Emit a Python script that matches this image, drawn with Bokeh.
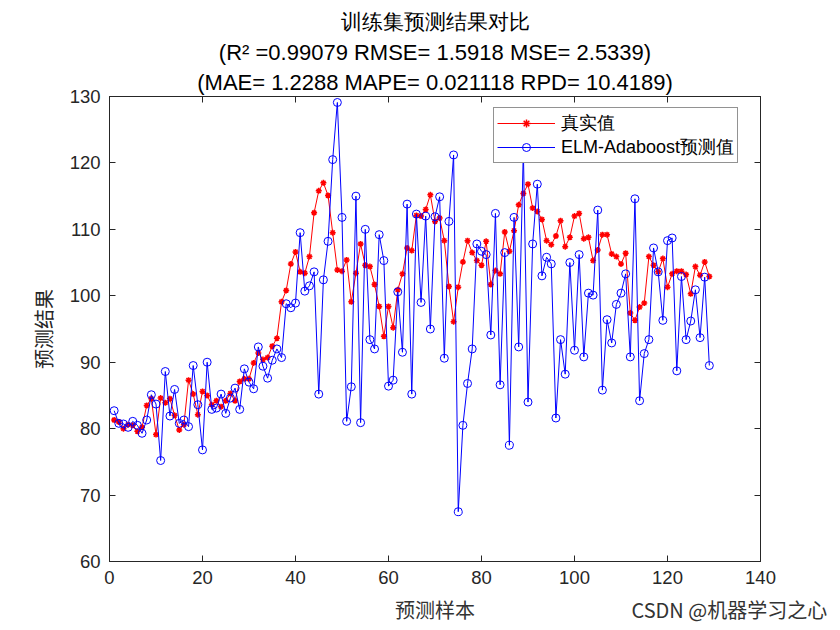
from bokeh.plotting import figure
from bokeh.models import Range1d, FixedTicker, LinearAxis, Legend, LegendItem, Title
from bokeh.embed import file_html
from bokeh.resources import INLINE

# ---------------- data ----------------
sample_index = list(range(1, 130))

true_values = [
    81.3, 81.0, 80.0, 80.6, 80.5, 79.6, 80.2, 83.5, 84.5, 79.1,
    84.6, 83.9, 84.5, 82.0, 79.8, 80.6, 87.3, 85.2, 82.1, 85.6,
    85.0, 83.6, 84.2, 83.3, 84.2, 85.3, 84.2, 87.1, 87.5, 87.5,
    89.9, 91.4, 90.4, 90.7, 92.4, 93.6, 99.1, 100.8, 104.8, 106.6,
    103.6, 103.4, 105.9, 112.5, 115.8, 117.0, 115.1, 109.5, 103.9, 103.7,
    105.4, 99.1, 103.4, 107.8, 104.6, 104.4, 101.7, 98.4, 93.9, 98.4,
    95.2, 100.9, 103.3, 107.2, 106.8, 112.1, 112.0, 113.0, 115.2, 111.2,
    111.7, 108.3, 101.4, 96.1, 101.3, 105.1, 108.3, 106.5, 105.3, 104.6,
    108.2, 101.7, 103.8, 103.3, 109.6, 106.7, 109.8, 113.7, 115.4, 116.8,
    113.2, 112.7, 111.5, 108.3, 107.7, 109.0, 111.3, 107.4, 108.8, 112.0,
    112.4, 108.6, 108.8, 105.3, 106.9, 109.2, 109.2, 106.3, 105.9, 104.8,
    106.4, 97.4, 96.3, 98.3, 98.9, 105.9, 104.6, 103.6, 105.6, 101.3,
    103.3, 103.7, 103.7, 103.2, 100.3, 104.4, 103.1, 105.1, 102.9,
]

pred_values = [
    82.7, 80.8, 80.7, 80.2, 81.1, 80.5, 79.3, 81.3, 85.1, 83.7,
    75.2, 88.6, 81.9, 85.9, 80.8, 81.3, 80.3, 89.5, 83.6, 76.8,
    90.0, 82.9, 83.1, 85.2, 82.3, 84.6, 86.1, 82.9, 89.0, 87.0,
    86.0, 92.3, 89.4, 87.6, 90.3, 92.0, 90.7, 98.8, 98.2, 98.9,
    109.5, 100.7, 101.5, 103.6, 85.2, 102.4, 108.2, 120.5, 129.1, 111.8,
    81.1, 86.3, 115.0, 80.9, 110.0, 93.4, 92.0, 109.2, 105.3, 86.4,
    87.3, 100.6, 91.5, 113.8, 85.2, 112.3, 99.0, 112.0, 95.0, 111.9,
    114.9, 90.6, 111.2, 121.2, 67.5, 80.5, 86.8, 92.0, 107.8, 106.7,
    106.2, 94.1, 112.4, 86.6, 106.5, 77.5, 111.8, 92.3, 122.0, 84.0,
    107.8, 116.8, 103.0, 105.8, 104.8, 81.6, 93.4, 88.2, 105.0, 91.8,
    106.2, 90.8, 100.4, 100.1, 112.9, 85.8, 96.4, 92.9, 98.7, 100.4,
    103.3, 90.8, 114.6, 84.2, 91.3, 93.4, 107.2, 103.6, 96.3, 108.3,
    108.7, 88.7, 102.9, 93.4, 96.2, 100.9, 93.7, 102.8, 89.5,
]

x_ticks = [0, 20, 40, 60, 80, 100, 120, 140]
y_ticks = [60, 70, 80, 90, 100, 110, 120, 130]

title_main = "训练集预测结果对比"
title_line2 = "(R² =0.99079 RMSE= 1.5918 MSE= 2.5339)"
title_line3 = "(MAE= 1.2288 MAPE= 0.021118 RPD= 10.4189)"
x_label = "预测样本"
y_label = "预测结果"
legend_true = "真实值"
legend_pred = "ELM-Adaboost预测值"
watermark = "CSDN @机器学习之心"

# ---------------- layout constants ----------------
LEFT, RIGHT, TOP, BOTTOM = 109, 760, 96, 561
W, H = 840, 630
AX_COLOR = "#262626"
LATIN = "Liberation Sans"
CJK = "Noto Sans CJK SC"
X_LABEL_POS = 70       # centre of the x-axis caption (data units)
WATERMARK_POS = 133.3  # centre of the watermark text (data units)

p = figure(width=W, height=H, output_backend="svg", toolbar_location=None,
           x_range=Range1d(0, 140), y_range=Range1d(60, 130),
           min_border_left=LEFT, min_border_right=W - RIGHT,
           min_border_top=TOP, min_border_bottom=H - BOTTOM)
p.background_fill_color = "white"
p.border_fill_color = "white"
p.outline_line_color = AX_COLOR
p.outline_line_width = 1
p.xgrid.visible = False
p.ygrid.visible = False


def style_axis(ax, ticks):
    ax.ticker = FixedTicker(ticks=ticks)
    ax.major_tick_in = 6
    ax.major_tick_out = 0
    ax.minor_tick_in = 0
    ax.minor_tick_out = 0
    ax.axis_line_color = AX_COLOR
    ax.major_tick_line_color = AX_COLOR
    ax.major_label_text_font = LATIN
    ax.major_label_text_font_size = "18.5px"
    ax.major_label_text_color = AX_COLOR


style_axis(p.xaxis[0], x_ticks)
style_axis(p.yaxis[0], y_ticks)
p.xaxis.major_label_standoff = 9
p.yaxis.major_label_standoff = 9

p.yaxis.axis_label = y_label
p.yaxis.axis_label_text_font = CJK
p.yaxis.axis_label_text_font_size = "20px"
p.yaxis.axis_label_text_font_style = "normal"
p.yaxis.axis_label_text_color = AX_COLOR
p.yaxis.axis_label_standoff = 9

# caption row below the x axis: x caption and watermark share one row
cap = LinearAxis(ticker=FixedTicker(ticks=[X_LABEL_POS, WATERMARK_POS]))
cap.major_label_overrides = {X_LABEL_POS: x_label, WATERMARK_POS: watermark}
cap.axis_line_color = None
cap.major_tick_line_color = None
cap.minor_tick_line_color = None
cap.major_tick_in = 0
cap.major_tick_out = 0
cap.minor_tick_in = 0
cap.minor_tick_out = 0
cap.major_label_standoff = 8
cap.major_label_text_font = CJK
cap.major_label_text_font_size = "20px"
cap.major_label_text_color = "#333333"
p.add_layout(cap, "below")

# mirrored box ticks (top / right)
for loc, ticks in (("above", x_ticks), ("right", y_ticks)):
    ax = LinearAxis(ticker=FixedTicker(ticks=ticks))
    ax.major_tick_in = 6
    ax.major_tick_out = 0
    ax.minor_tick_in = 0
    ax.minor_tick_out = 0
    ax.axis_line_color = AX_COLOR
    ax.major_tick_line_color = AX_COLOR
    ax.major_label_text_color = None
    ax.major_label_text_font_size = "1px"
    ax.major_label_standoff = 0
    p.add_layout(ax, loc)

# three-line title
for text, size, standoff in ((title_line3, "22px", 4),
                             (title_line2, "22px", 2),
                             (title_main, "21px", 8)):
    t = Title(text=text, align="center", text_font=LATIN, text_font_size=size,
              text_font_style="normal", text_color="#000000", standoff=standoff)
    p.add_layout(t, "above")

# ---------------- series ----------------
r_line = p.line(sample_index, true_values, line_color="#ff0000", line_width=1)
r_pts = p.scatter(sample_index, true_values, marker="asterisk", size=6,
                  line_color="#ff0000", line_width=1.5)
b_line = p.line(sample_index, pred_values, line_color="#0000ff", line_width=1)
b_pts = p.scatter(sample_index, pred_values, marker="circle", size=8,
                  line_color="#0000ff", fill_color=None, line_width=1)

legend = Legend(items=[LegendItem(label=legend_true, renderers=[r_line, r_pts]),
                       LegendItem(label=legend_pred, renderers=[b_line, b_pts])],
                location=(493 - LEFT, BOTTOM - 163))
legend.border_line_color = AX_COLOR
legend.border_line_width = 1
legend.background_fill_color = "white"
legend.background_fill_alpha = 1
legend.padding = 3
legend.spacing = 0
legend.margin = 0
legend.glyph_width = 58
legend.glyph_height = 20
legend.label_height = 20
legend.label_standoff = 6
legend.label_text_font = LATIN
legend.label_text_font_size = "18px"
legend.label_text_color = "#000000"
legend.label_text_baseline = "middle"
p.add_layout(legend)

open("out.html", "w").write(file_html(p, INLINE))
